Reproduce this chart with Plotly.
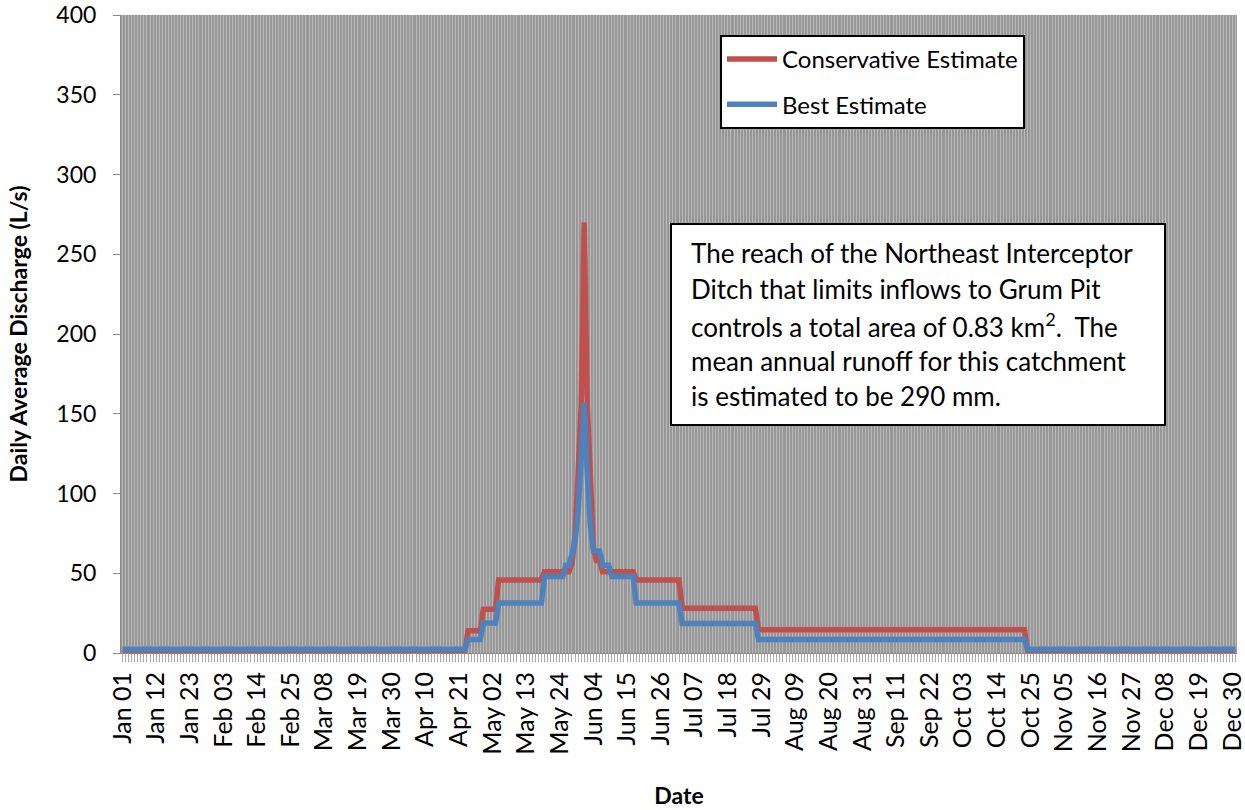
import pandas as pd
import plotly.graph_objects as go

# ---------------- data ----------------
year_start = "2013-01-01"
year_end = "2013-12-31"

# (value in L/s, number of consecutive days)
conservative_runs = [
    (0.9, 113), (14.0, 5), (27.5, 5), (45.8, 15), (51.0, 9),
    (56.0, 1), (74.0, 1), (112.0, 1), (155.0, 1), (270.0, 1),
    (155.0, 1), (112.0, 1), (66.0, 1), (58.0, 2), (51.0, 11),
    (45.8, 15), (28.0, 25), (14.5, 88), (0.9, 69),
]
best_runs = [
    (2.4, 113), (8.5, 5), (18.8, 5), (31.3, 15), (48.0, 7),
    (55.0, 2), (62.0, 1), (70.0, 1), (88.0, 1), (122.0, 1),
    (157.0, 1), (112.0, 1), (80.0, 1), (64.0, 3), (55.0, 3),
    (48.0, 8), (31.3, 15), (18.5, 25), (8.5, 88), (2.4, 69),
]

tick_labels = [
    "Jan 01", "Jan 12", "Jan 23", "Feb 03", "Feb 14", "Feb 25", "Mar 08",
    "Mar 19", "Mar 30", "Apr 10", "Apr 21", "May 02", "May 13", "May 24",
    "Jun 04", "Jun 15", "Jun 26", "Jul 07", "Jul 18", "Jul 29", "Aug 09",
    "Aug 20", "Aug 31", "Sep 11", "Sep 22", "Oct 03", "Oct 14", "Oct 25",
    "Nov 05", "Nov 16", "Nov 27", "Dec 08", "Dec 19", "Dec 30",
]

note_lines = [
    "The reach of the Northeast Interceptor",
    "Ditch that limits inflows to Grum Pit",
    "controls a total area of 0.83 km<sup>2</sup>.  The",
    "mean annual runoff for this catchment",
    "is estimated to be 290 mm.",
]


def expand(runs):
    out = []
    for v, n in runs:
        out.extend([v] * n)
    return out


dates = pd.date_range(year_start, year_end, freq="D")
conservative = expand(conservative_runs)
best = expand(best_runs)
tick_dates = list(dates[::11])

# ---------------- figure ----------------
W, H = 1245, 810
PL, PR, PT, PB = 121, 1237, 15, 653   # plot area in page pixels
L, T, R, B = PL, PT, W - PR, H - PB
PW, PH = PR - PL, PB - PT

FONT = "Lato"
RED = "#C0504D"
BLUE = "#4F81BD"


def px_x(x):
    return (x - PL) / PW


def px_y(y):
    return (PB - y) / PH


fig = go.Figure()
fig.add_trace(go.Scatter(
    x=dates, y=conservative, mode="lines", name="Conservative Estimate",
    line=dict(color=RED, width=5.5), legendgroup="a",
))
fig.add_trace(go.Scatter(
    x=dates, y=best, mode="lines", name="Best Estimate",
    line=dict(color=BLUE, width=5.5), legendgroup="b",
))

fig.update_layout(
    width=W, height=H,
    margin=dict(l=L, r=R, t=T, b=B, autoexpand=False),
    paper_bgcolor="white",
    plot_bgcolor="#979797",
    font=dict(family=FONT, size=23, color="black"),
    showlegend=True,
    legend=dict(
        x=px_x(720), y=px_y(35), xanchor="left", yanchor="top",
        bgcolor="white", bordercolor="black", borderwidth=2,
        font=dict(family=FONT, size=24, color="black"),
        tracegroupgap=11, itemwidth=50,
    ),
)

fig.update_xaxes(
    type="date",
    range=["2012-12-31 12:00", "2013-12-31 12:00"],
    tickmode="array", tickvals=tick_dates, ticktext=tick_labels,
    tickangle=-90, tickfont=dict(family=FONT, size=25, color="black"),
    ticklabeloverflow="allow",
    ticks="outside", ticklen=8, tickcolor="#a8a8a8", tickwidth=1,
    showgrid=False, showline=True, linecolor="#8a8a8a", linewidth=1,
    zeroline=False,
    minor=dict(
        tickmode="linear", tick0="2013-01-01", dtick=86400000,
        showgrid=True, gridcolor="#b9b9b9", gridwidth=1,
        ticks="outside", ticklen=8, tickcolor="#a8a8a8", tickwidth=1,
    ),
    title=dict(text="<b>Date</b>", font=dict(family=FONT, size=23, color="black"),
               standoff=34),
)
fig.update_yaxes(
    range=[0, 400], dtick=50, tick0=0,
    ticks="outside", ticklen=7, tickcolor="#8a8a8a", tickwidth=1,
    ticklabelstandoff=12, ticklabeloverflow="allow",
    tickfont=dict(family=FONT, size=23, color="black"),
    showgrid=False, showline=True, linecolor="#8a8a8a", linewidth=1,
    zeroline=False,
    title=dict(text="<b>Daily Average Discharge (L/s)</b>",
               font=dict(family=FONT, size=23, color="black"), standoff=22),
)

# text box
fig.add_shape(
    type="rect", xref="paper", yref="paper",
    x0=px_x(671), x1=px_x(1165), y0=px_y(425), y1=px_y(224),
    line=dict(color="black", width=2), fillcolor="white", layer="above",
)
line_centers = [253, 289, 325, 360.5, 396]
for txt, yc in zip(note_lines, line_centers):
    fig.add_annotation(
        xref="paper", yref="paper", x=px_x(689), y=px_y(yc),
        xanchor="left", yanchor="middle", text=txt, showarrow=False,
        align="left", font=dict(family=FONT, size=26, color="black"),
    )

fig.write_html(
    "out.html",
    config={"displayModeBar": False},
    post_script="document.body.style.margin='0';document.body.style.overflow='hidden';",
)
